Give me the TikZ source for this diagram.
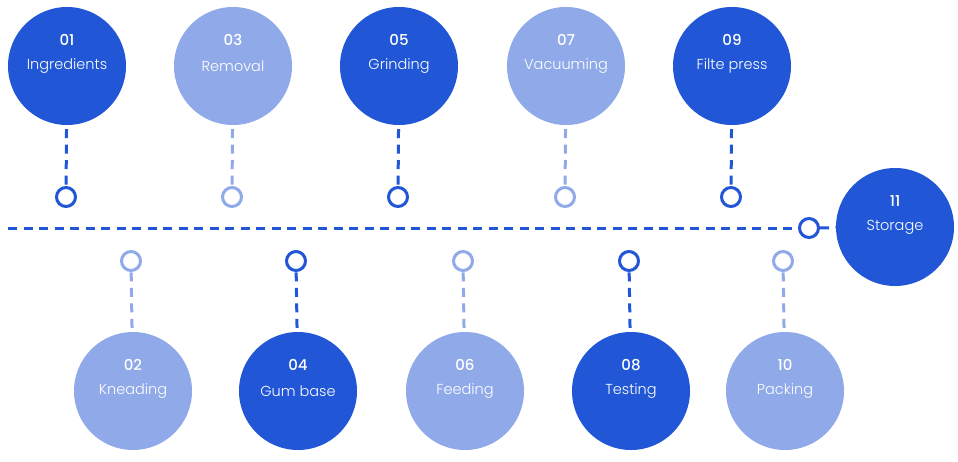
\documentclass[tikz,border=0pt]{standalone}
\usepackage{fontspec}
\setmainfont{Poppins}[UprightFont=* Light,BoldFont=* Medium]
\usepackage{tikz}
\usetikzlibrary{positioning}
\definecolor{DeepBlue}{HTML}{2156D6}
\definecolor{SoftBlue}{HTML}{8FA9E9}
\tikzset{
  darkball/.style={circle,fill=DeepBlue,draw=none,minimum size=118pt,inner sep=0pt,
              text=white,font=\fontsize{14.5}{16}\selectfont},
  lightball/.style={circle,fill=SoftBlue,draw=none,minimum size=118pt,inner sep=0pt,
              text=white,font=\fontsize{14.5}{16}\selectfont},
  num/.style={label={[text=white,font=\fontsize{15}{16}\selectfont\bfseries,yshift=26pt]center:#1}},
  darkring/.style={circle,draw=DeepBlue,line width=3pt,fill=white,minimum size=19pt,inner sep=0pt},
  lightring/.style={circle,draw=SoftBlue,line width=3pt,fill=white,minimum size=19pt,inner sep=0pt},
  darkdash/.style={draw=DeepBlue,line width=3pt,dash pattern=on 9pt off 6.5pt},
  lightdash/.style={draw=SoftBlue,line width=3pt,dash pattern=on 9pt off 6.5pt}
}
\begin{document}
\begin{tikzpicture}[x=1pt,y=-1pt]
  \useasboundingbox (0,0) rectangle (958,461);
  % top row
  \node[darkball,num=01] (ingr) at (67,66) {Ingredients};
  \node[lightball,num=03] (remo) at (233,66) {Removal};
  \node[darkball,num=05] (grin) at (399,66) {Grinding};
  \node[lightball,num=07] (vacu) at (566,66) {Vacuuming};
  \node[darkball,num=09] (filt) at (732,66) {Filte press};
  % bottom row
  \node[lightball,num=02] (knea) at (133,391) {Kneading};
  \node[darkball,num=04] (gumb) at (298,391) {Gum base};
  \node[lightball,num=06] (feed) at (465,391) {Feeding};
  \node[darkball,num=08] (test) at (631,391) {Testing};
  \node[lightball,num=10] (pack) at (785,391) {Packing};
  \node[darkball,num=11] (stor) at (895,227) {Storage};
  % rings on the timeline
  \node[darkring] (r01) at (66,197) {};
  \node[lightring] (r03) at (232,197) {};
  \node[darkring] (r05) at (398,197) {};
  \node[lightring] (r07) at (565,197) {};
  \node[darkring] (r09) at (731,197) {};
  \node[lightring] (r02) at (131,261) {};
  \node[darkring] (r04) at (296,261) {};
  \node[lightring] (r06) at (463,261) {};
  \node[darkring] (r08) at (629,261) {};
  \node[lightring] (r10) at (783,261) {};
  \node[darkring] (r11) at (809,228) {};
  \coordinate (start) at (8,228);
  % connectors
  \draw[darkdash] (start) -- (r11);
  \draw[darkdash] (r11) -- (stor);
  \draw[darkdash,shorten <=4pt] (ingr) -- (r01);
  \draw[lightdash,shorten <=4pt] (remo) -- (r03);
  \draw[darkdash,shorten <=4pt] (grin) -- (r05);
  \draw[lightdash,shorten <=4pt] (vacu) -- (r07);
  \draw[darkdash,shorten <=4pt] (filt) -- (r09);
  \draw[lightdash,shorten <=4pt] (knea) -- (r02);
  \draw[darkdash,shorten <=4pt] (gumb) -- (r04);
  \draw[lightdash,shorten <=4pt] (feed) -- (r06);
  \draw[darkdash,shorten <=4pt] (test) -- (r08);
  \draw[lightdash,shorten <=4pt] (pack) -- (r10);
\end{tikzpicture}
\end{document}
